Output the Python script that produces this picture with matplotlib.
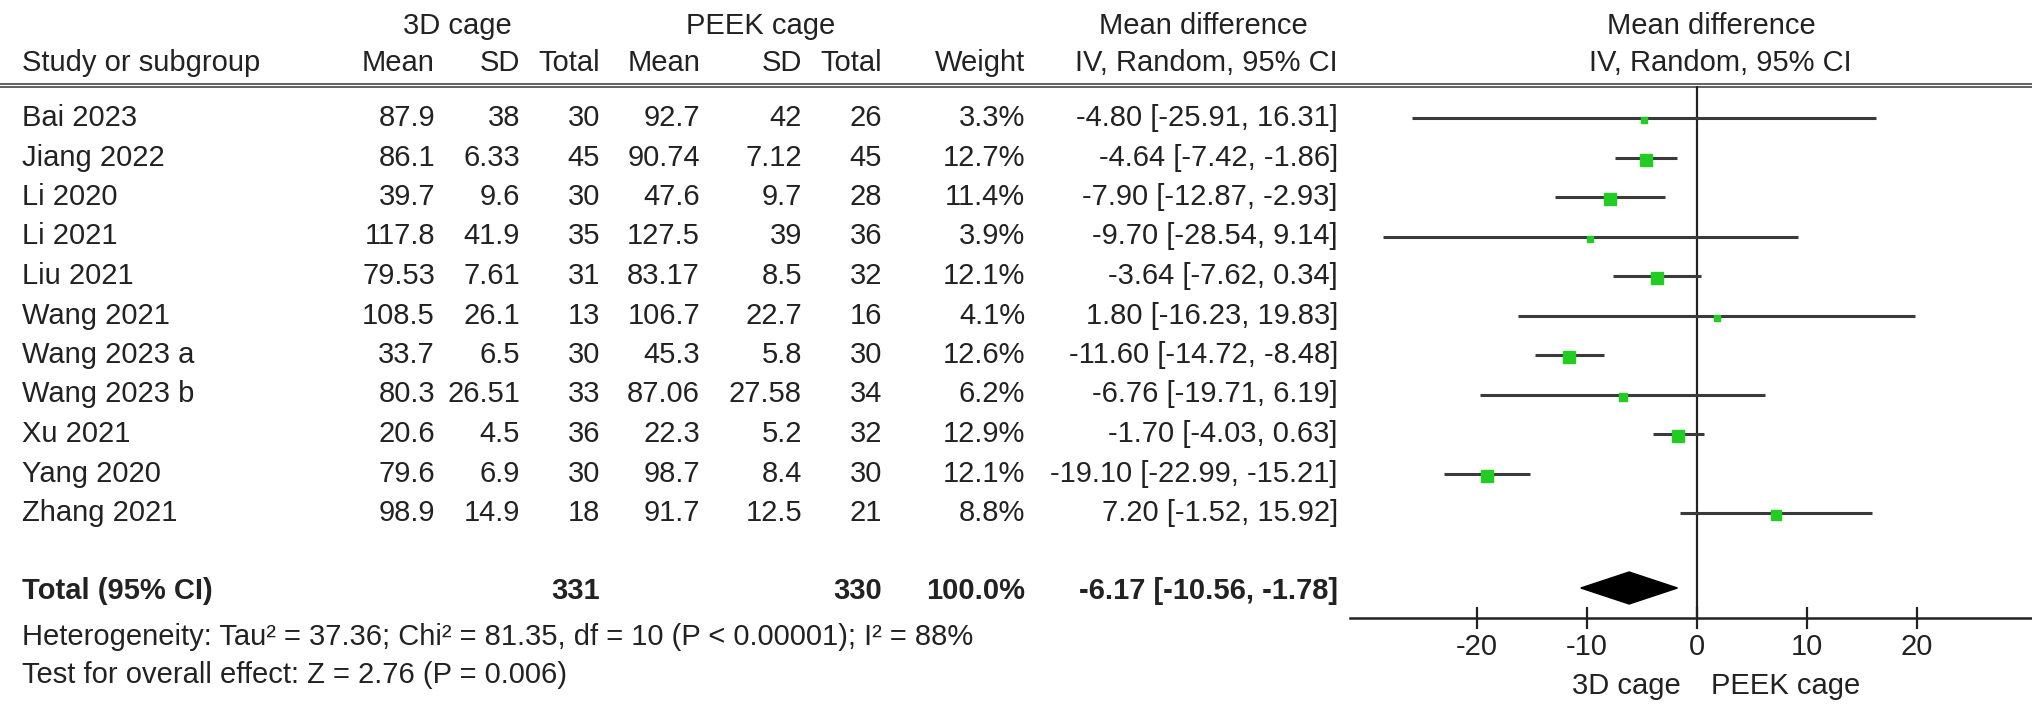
import matplotlib.pyplot as plt
import numpy as np

plt.rcParams['font.family'] = ['Liberation Sans', 'DejaVu Sans']
plt.rcParams['axes.unicode_minus'] = False

studies = ["Bai 2023", "Jiang 2022", "Li 2020", "Li 2021", "Liu 2021", "Wang 2021",
           "Wang 2023 a", "Wang 2023 b", "Xu 2021", "Yang 2020", "Zhang 2021"]
mean_3d = [87.9, 86.1, 39.7, 117.8, 79.53, 108.5, 33.7, 80.3, 20.6, 79.6, 98.9]
sd_3d = [38, 6.33, 9.6, 41.9, 7.61, 26.1, 6.5, 26.51, 4.5, 6.9, 14.9]
n_3d = [30, 45, 30, 35, 31, 13, 30, 33, 36, 30, 18]
mean_peek = [92.7, 90.74, 47.6, 127.5, 83.17, 106.7, 45.3, 87.06, 22.3, 98.7, 91.7]
sd_peek = [42, 7.12, 9.7, 39, 8.5, 22.7, 5.8, 27.58, 5.2, 8.4, 12.5]
n_peek = [26, 45, 28, 36, 32, 16, 30, 34, 32, 30, 21]
weight = [3.3, 12.7, 11.4, 3.9, 12.1, 4.1, 12.6, 6.2, 12.9, 12.1, 8.8]
md = [-4.80, -4.64, -7.90, -9.70, -3.64, 1.80, -11.60, -6.76, -1.70, -19.10, 7.20]
ci_lo = [-25.91, -7.42, -12.87, -28.54, -7.62, -16.23, -14.72, -19.71, -4.03, -22.99, -1.52]
ci_hi = [16.31, -1.86, -2.93, 9.14, 0.34, 19.83, -8.48, 6.19, 0.63, -15.21, 15.92]
total_md, total_lo, total_hi = -6.17, -10.56, -1.78
total_n_3d, total_n_peek = 331, 330
total_weight = 100.0
het_text = "Heterogeneity: Tau² = 37.36; Chi² = 81.35, df = 10 (P < 0.00001); I² = 88%"
effect_text = "Test for overall effect: Z = 2.76 (P = 0.006)"
xticks = [-20, -10, 0, 10, 20]

W, H = 2032, 714
fig = plt.figure(figsize=(W / 100, H / 100), dpi=100)
ax0 = fig.add_axes([0, 0, 1, 1])
ax0.set_xlim(0, W)
ax0.set_ylim(H, 0)
ax0.axis('off')

tc = '#222222'
fs = 21

# layout (pixels)
y_h1, y_h2, y_line = 26, 63, 86
y0, dy = 118, 39.5
y_tot, y_het, y_eff = 591, 637, 675
y_axis = 618
cols = [435, 520, 600, 700, 802, 882, 1025, 1338]

def t(x, y, s, ha='right', bold=False):
    ax0.text(x, y, s, ha=ha, va='center', fontsize=fs, color=tc,
             fontweight='bold' if bold else 'normal')

# headers
t(457, y_h1, "3D cage", ha='center')
t(761, y_h1, "PEEK cage", ha='center')
t(1203, y_h1, "Mean difference", ha='center')
t(1711, y_h1, "Mean difference", ha='center')
t(22, y_h2, "Study or subgroup", ha='left')
for x, s in zip(cols, ["Mean", "SD", "Total", "Mean", "SD", "Total", "Weight",
                       "IV, Random, 95% CI"]):
    t(x, y_h2, s)
t(1720, y_h2, "IV, Random, 95% CI", ha='center')
ax0.plot([0, W], [y_line - 2, y_line - 2], color='#555555', lw=1.3)
ax0.plot([0, W], [y_line + 1, y_line + 1], color='#555555', lw=1.3)

rows_y = [y0 + i * dy for i in range(len(studies))]
for i, y in enumerate(rows_y):
    t(22, y, studies[i], ha='left')
    vals = [mean_3d[i], sd_3d[i], n_3d[i], mean_peek[i], sd_peek[i], n_peek[i]]
    for x, v in zip(cols[:6], vals):
        t(x, y, str(v))
    t(cols[6], y, f"{weight[i]:.1f}%")
    t(cols[7], y, f"{md[i]:.2f} [{ci_lo[i]:.2f}, {ci_hi[i]:.2f}]")

t(22, y_tot, "Total (95% CI)", ha='left', bold=True)
t(cols[2], y_tot, str(total_n_3d), bold=True)
t(cols[5], y_tot, str(total_n_peek), bold=True)
t(cols[6], y_tot, f"{total_weight:.1f}%", bold=True)
t(cols[7], y_tot, f"{total_md:.2f} [{total_lo:.2f}, {total_hi:.2f}]", bold=True)
t(22, y_het, het_text, ha='left')
t(22, y_eff, effect_text, ha='left')

# forest plot
x_left, x_right = 1350, 2032
ax = fig.add_axes([x_left / W, (H - y_axis) / H, (x_right - x_left) / W, (y_axis - y_line) / H])
ax.set_xlim((x_left - 1697) / 11, (x_right - 1697) / 11)
ax.set_ylim(y_axis, y_line)
ax.patch.set_alpha(0)
for s in ['top', 'left', 'right']:
    ax.spines[s].set_visible(False)
ax.spines['bottom'].set_linewidth(1.8)
ax.spines['bottom'].set_color('#222222')
ax.set_yticks([])
ax.set_xticks(xticks)
ax.tick_params(axis='x', direction='inout', length=16, width=1.6, color='#222222',
               labelsize=fs, labelcolor=tc, pad=3)
ax.axvline(0, color='#222222', lw=1.6)

for i, y in enumerate(rows_y):
    ax.plot([ci_lo[i], ci_hi[i]], [y, y], color='#3a3a3a', lw=2.2, solid_capstyle='butt')
    ax.plot(md[i], y + 2, marker='s', color='#22cc22', mec='#22cc22',
            markersize=2.4 * np.sqrt(weight[i]))

dh = 16
yc = y_tot - 3
ax.fill([total_lo, total_md, total_hi, total_md],
        [yc, yc - dh, yc, yc + dh], color='black')

t(1681, 686, "3D cage")
t(1711, 686, "PEEK cage", ha='left')

fig.savefig("out.png", dpi=100)
